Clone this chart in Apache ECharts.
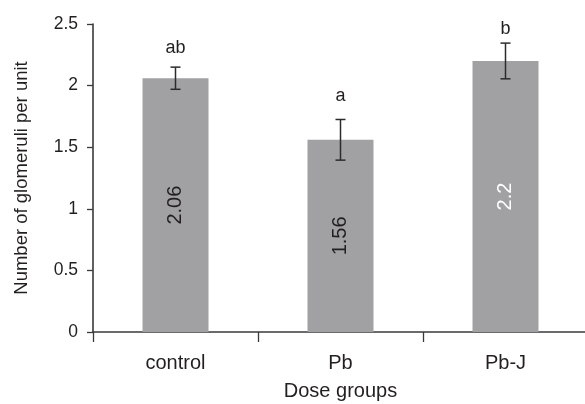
<!DOCTYPE html>
<html><head><meta charset="utf-8">
<script src="https://cdn.jsdelivr.net/npm/echarts@6/dist/echarts.min.js"></script>
<style>html,body{margin:0;padding:0;background:#fff}#c{width:585px;height:404px}</style>
</head><body><div id="c"></div>
<script>
const categories = ['control', 'Pb', 'Pb-J'];
const means = [2.06, 1.56, 2.2];
const errors = [0.09, 0.165, 0.145];
const valueLabels = ['2.06', '1.56', '2.2'];
const sigLetters = ['ab', 'a', 'b'];
const yAxisTitle = 'Number of glomeruli per unit';
const xAxisTitle = 'Dose groups';

const FONT = '"Liberation Sans", Arial, Helvetica, sans-serif';
const TXT = '#231f20';
const AX = '#3a3a3a';
const valueLabelColors = [TXT, TXT, '#ffffff'];
const letterOffsets = [19, 23, 14];

const chart = echarts.init(document.getElementById('c'), null, {renderer: 'canvas'});
chart.setOption({
  animation: false,
  backgroundColor: '#fff',
  grid: {left: 93, top: 24, right: -3, bottom: 72, outerBoundsMode: 'none', containLabel: false},
  xAxis: {
    type: 'category',
    data: categories,
    boundaryGap: true,
    axisLine: {lineStyle: {color: AX, width: 1.6}},
    axisTick: {show: true, inside: false, length: 10, alignWithLabel: false, lineStyle: {color: AX, width: 1.3}},
    axisLabel: {fontFamily: FONT, fontSize: 20, color: TXT, margin: 21},
    name: xAxisTitle,
    nameLocation: 'middle',
    nameGap: 49,
    nameTextStyle: {fontFamily: FONT, fontSize: 20, color: TXT}
  },
  yAxis: {
    type: 'value',
    min: 0, max: 2.5, interval: 0.5,
    splitLine: {show: false},
    axisLine: {show: true, lineStyle: {color: AX, width: 1.6}},
    axisTick: {show: true, inside: false, length: 6, lineStyle: {color: AX, width: 1.3}},
    axisLabel: {fontFamily: FONT, fontSize: 17.5, color: TXT, margin: 15},
    name: yAxisTitle,
    nameLocation: 'middle',
    nameGap: 62,
    nameTextStyle: {fontFamily: FONT, fontSize: 18.5, color: TXT}
  },
  series: [
    {
      type: 'bar',
      barWidth: '40%',
      itemStyle: {color: '#a1a1a4'},
      data: means.map((v, i) => ({
        value: v,
        label: {
          show: true,
          position: 'inside',
          rotate: 90,
          formatter: valueLabels[i],
          fontFamily: FONT,
          fontSize: 20,
          color: valueLabelColors[i]
        }
      })),
      z: 2
    },
    {
      type: 'custom',
      data: means.map((m, i) => [i, m, errors[i]]),
      z: 5,
      renderItem: function (params, api) {
        const i = api.value(0), m = api.value(1), e = api.value(2);
        const top = api.coord([i, m + e]);
        const bot = api.coord([i, m - e]);
        const x = top[0];
        const cap = 5;
        const style = {stroke: '#2b2b2b', lineWidth: 1.5};
        return {
          type: 'group',
          children: [
            {type: 'line', shape: {x1: x, y1: top[1], x2: x, y2: bot[1]}, style: style},
            {type: 'line', shape: {x1: x - cap, y1: top[1], x2: x + cap, y2: top[1]}, style: style},
            {type: 'line', shape: {x1: x - cap, y1: bot[1], x2: x + cap, y2: bot[1]}, style: style},
            {type: 'text', x: x, y: top[1] - letterOffsets[params.dataIndex],
             style: {text: sigLetters[params.dataIndex], fill: TXT, font: '18px ' + FONT, textAlign: 'center', textVerticalAlign: 'middle'}}
          ]
        };
      }
    }
  ]
});
</script>
</body></html>
